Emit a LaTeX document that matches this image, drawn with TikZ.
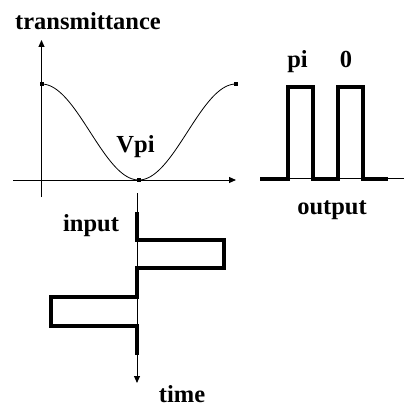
\documentclass[tikz,border=0pt]{standalone}
\usepackage{fontspec}
\setmainfont{Liberation Serif}
\usetikzlibrary{arrows.meta}

\begin{document}
\begin{tikzpicture}[x=1pt, y=-1pt, every node/.style={font=\bfseries\fontsize{24.5}{28}\selectfont, inner sep=0pt, anchor=base}, >={Triangle[length=7pt, width=6pt]}, axis/.style={line width=1pt}, signal/.style={line width=4pt, line join=miter}, dot/.style={fill, minimum size=4pt, inner sep=0pt, anchor=center}]
	\useasboundingbox (0,0) rectangle (404,406);
	% transfer curve
	\coordinate (xl) at (13,180);
	\coordinate (xr) at (236,180);
	\coordinate (yb) at (41.5,197);
	\coordinate (yt) at (41.5,40);
	\draw[axis,->] (xl) -- (xr);
	\draw[axis,->] (yb) -- (yt);
	\draw[line width=0.8pt] plot[domain=41.5:236, samples=90] (\x, {132-48*cos(1.8509*(\x-41.5))});
	\node[dot] (top0) at (41.5,84) {};
	\node[dot] (bot) at (138.5,180) {};
	\node[dot] (top1) at (236,84) {};
	\node (trans) at (88,30) {transmittance};
	\node (vpi) at (135.5,152) {Vpi};
	% input
	\coordinate (tin) at (137,193);
	\coordinate (tout) at (137,383);
	\draw[axis,->] (tin) -- (tout);
	\draw[signal] (137,212) -- (137,240) -- (224,240) -- (224,268) -- (137,268) -- (137,297) -- (51,297) -- (51,326) -- (137,326) -- (137,355);
	\node (input) at (91,231.5) {input};
	\node (time) at (182,402) {time};
	% output
	\coordinate (ol) at (260,178.5);
	\coordinate (or) at (404,178.5);
	\draw[axis] (ol) -- (or);
	\draw[signal] (ol) -- (288,178.5) -- (288,87.5) -- (313,87.5) -- (313,178.5) -- (338,178.5) -- (338,87.5) -- (363,87.5) -- (363,178.5) -- (388,178.5);
	\node (pi) at (297.5,68) {pi};
	\node (zero) at (346,68) {0};
	\node (output) at (332,214) {output};
\end{tikzpicture}
\end{document}
